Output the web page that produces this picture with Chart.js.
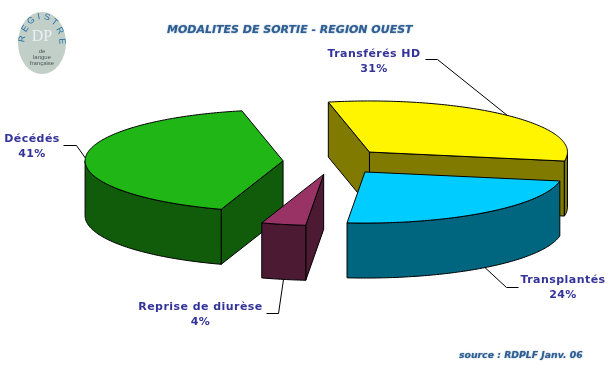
<!DOCTYPE html>
<html><head><meta charset="utf-8">
<style>html,body{margin:0;padding:0;background:#fff}#w{position:relative;width:610px;height:372px}</style>
<script src="https://cdn.jsdelivr.net/npm/chart.js@4"></script>
</head><body><div id="w"><canvas id="c" width="610" height="372"></canvas></div>
<script>
const categories = ['Transférés HD', 'Transplantés', 'Reprise de diurèse', 'Décédés'];
const values = [31, 23.5, 3.6, 41.4];
const topColors = ['#FFF500', '#00CCFF', '#993366', '#1FB616'];
const sideColors = ['#807A00', '#006680', '#4C1A33', '#105C0B'];
const chartTitle = 'MODALITES DE SORTIE - REGION OUEST';
const sourceNote = 'source : RDPLF Janv. 06';
const logoRing = 'REGISTRE';
const logoSmall = ['de', 'langue', 'française'];

// label layout: text centre, baselines and leader elbow
const labelLayout = [
  {x: 374, y: 57, line: [[425, 59], [437, 59]]},
  {x: 563, y: 283, line: [[518, 287], [506, 287]]},
  {x: 200.5, y: 310, line: [[266, 313], [278, 313]]},
  {x: 32, y: 142, line: [[63, 145], [76, 145]]}
];
const squash = 0.258, depth = 55, explode = 51;

const pie3d = {
  id: 'pie3d',
  beforeDatasetDraw(chart, args) {
    const ctx = chart.ctx;
    const arcs = chart.getDatasetMeta(0).data;
    const proj = (el, a, r, dz) => {
      const mid = (el.startAngle + el.endAngle) / 2;
      const ox = Math.cos(mid) * explode, oy = Math.sin(mid) * explode;
      return [el.x + ox + Math.cos(a) * r, el.y + (oy + Math.sin(a) * r) * squash + dz];
    };
    const poly = (pts, fill) => {
      ctx.beginPath();
      pts.forEach((p, i) => i ? ctx.lineTo(p[0], p[1]) : ctx.moveTo(p[0], p[1]));
      ctx.closePath();
      ctx.fillStyle = fill; ctx.fill();
      ctx.strokeStyle = '#000'; ctx.lineWidth = 1; ctx.stroke();
    };
    const arcPts = (el, a0, a1, dz) => {
      const out = [], n = Math.max(2, Math.ceil(Math.abs(a1 - a0) * 60));
      for (let i = 0; i <= n; i++) out.push(proj(el, a0 + (a1 - a0) * i / n, el.outerRadius, dz));
      return out;
    };
    const order = arcs.map((el, i) => i).sort((p, q) =>
      Math.sin((arcs[p].startAngle + arcs[p].endAngle) / 2) - Math.sin((arcs[q].startAngle + arcs[q].endAngle) / 2));
    ctx.save();
    ctx.lineJoin = 'round';
    for (const i of order) {
      const el = arcs[i], s = el.startAngle, e = el.endAngle, side = sideColors[i];
      const wall = a => {
        const c0 = proj(el, 0, 0, 0), c1 = proj(el, 0, 0, depth);
        poly([c0, proj(el, a, el.outerRadius, 0), proj(el, a, el.outerRadius, depth), c1], side);
      };
      if (Math.cos(s) < 0) wall(s);
      if (Math.cos(e) > 0) wall(e);
      for (const k of [-2, 0, 2]) {
        const a0 = Math.max(s, k * Math.PI), a1 = Math.min(e, (k + 1) * Math.PI);
        if (a1 > a0) poly(arcPts(el, a0, a1, 0).concat(arcPts(el, a1, a0, depth)), side);
      }
      poly([proj(el, 0, 0, 0)].concat(arcPts(el, s, e, 0)), topColors[i]);
    }
    ctx.textAlign = 'center';
    ctx.textBaseline = 'alphabetic';
    arcs.forEach((el, i) => {
      const mid = (el.startAngle + el.endAngle) / 2;
      const anchor = proj(el, mid, el.outerRadius, Math.sin(mid) > 0 ? depth : 0);
      const L = labelLayout[i];
      ctx.beginPath();
      ctx.moveTo(L.line[0][0] + .5, L.line[0][1] + .5);
      ctx.lineTo(L.line[1][0] + .5, L.line[1][1] + .5);
      ctx.lineTo(anchor[0], anchor[1]);
      ctx.strokeStyle = '#000'; ctx.lineWidth = 1; ctx.stroke();
      ctx.fillStyle = '#333399';
      ctx.font = 'bold 11px "DejaVu Sans"';
      ctx.letterSpacing = '0.45px';
      ctx.fillText(categories[i], L.x, L.y);
      ctx.fillText(Math.round(values[i]) + '%', L.x, L.y + 15);
      ctx.letterSpacing = '0px';
    });
    ctx.textAlign = 'left';
    ctx.fillStyle = '#2F5F92';
    ctx.shadowColor = 'rgba(47,95,146,.7)'; ctx.shadowBlur = 1.5;
    ctx.font = 'italic bold 11px "DejaVu Sans"';
    ctx.fillText(chartTitle, 167, 33);
    ctx.font = 'italic bold 9.3px "DejaVu Sans"';
    ctx.fillText(sourceNote, 459, 358);
    ctx.shadowBlur = 0; ctx.shadowColor = 'transparent';
    ctx.beginPath();
    ctx.ellipse(42, 43, 24, 31, 0, 0, Math.PI * 2);
    ctx.fillStyle = '#C2CFC8'; ctx.fill();
    ctx.textAlign = 'center'; ctx.textBaseline = 'middle';
    ctx.fillStyle = '#2272A8';
    ctx.font = '9px "Liberation Sans"';
    [...logoRing].forEach((ch, i) => {
      const t = (171 - i * 23.9) * Math.PI / 180;
      ctx.save();
      ctx.translate(42 + 20 * Math.cos(t), 43 - 26.5 * Math.sin(t));
      ctx.rotate(Math.PI / 2 - t);
      ctx.fillText(ch, 0, 0);
      ctx.restore();
    });
    ctx.fillStyle = '#E8F0F4';
    ctx.font = '16px "Liberation Serif"';
    ctx.fillText('DP', 42, 37);
    ctx.fillStyle = '#4A5A5A';
    ctx.font = '6px "Liberation Sans"';
    logoSmall.forEach((t, i) => ctx.fillText(t, 42, 51 + i * 6));
    ctx.restore();
    return false;
  }
};

new Chart(document.getElementById('c'), {
  type: 'pie',
  data: {labels: categories, datasets: [{data: values, backgroundColor: topColors, borderColor: '#000', borderWidth: 1}]},
  plugins: [pie3d],
  options: {
    responsive: false, animation: false, rotation: -12, radius: 198,
    layout: {padding: {left: 58, right: 0, top: 0, bottom: 49}},
    plugins: {legend: {display: false}, tooltip: {enabled: false}, title: {display: false}}
  }
});
</script></body></html>
